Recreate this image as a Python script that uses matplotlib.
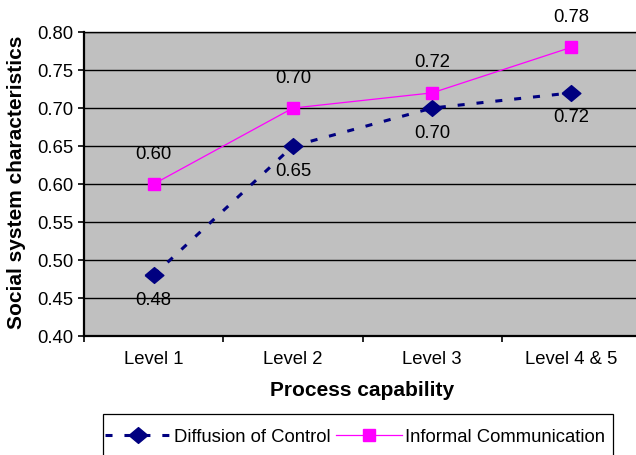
import numpy as np
import matplotlib.pyplot as plt
from matplotlib.patches import Rectangle

plt.rcParams['font.family'] = ['Liberation Sans', 'DejaVu Sans']

categories = ['Level 1', 'Level 2', 'Level 3', 'Level 4 & 5']
diffusion = [0.48, 0.65, 0.70, 0.72]
informal = [0.60, 0.70, 0.72, 0.78]
yticks = [0.40, 0.45, 0.50, 0.55, 0.60, 0.65, 0.70, 0.75, 0.80]

x = np.arange(len(categories))

# slightly flattened diamond, like the spreadsheet marker
diamond = [(-1, 0), (0, 0.84), (1, 0), (0, -0.84), (-1, 0)]

fig = plt.figure(figsize=(6.36, 4.55), dpi=100)
ax = fig.add_axes([0.1321, 0.2615, 0.8758, 0.668])
ax.set_facecolor('#C0C0C0')

ax.plot(x, diffusion, color='#000080', linestyle=(0, (2.3, 3.9)), linewidth=2.2,
        marker=diamond, markersize=13.5, label='Diffusion of Control', zorder=3)
ax.plot(x, informal, color='#FF00FF', linestyle='-', linewidth=0.9,
        marker='s', markersize=8, label='Informal Communication', zorder=3)

# value labels: informal above the points, diffusion below
for xi, v in zip(x, informal):
    ax.annotate(f'{v:.2f}', (xi, v), xytext=(0, 21.6), textcoords='offset points',
                ha='center', va='center', fontsize=13.3)
for xi, v in zip(x, diffusion):
    ax.annotate(f'{v:.2f}', (xi, v), xytext=(0, -18), textcoords='offset points',
                ha='center', va='center', fontsize=13.3)

ax.set_xlim(-0.5, len(categories) - 0.5)
ax.set_ylim(0.40, 0.80)
ax.set_yticks(yticks)
ax.set_yticklabels([f'{t:.2f}' for t in yticks], fontsize=13.3)
ax.yaxis.grid(True, color='black', linewidth=1.0)
ax.set_axisbelow(True)

# category ticks sit between the groups, labels in the middle
ax.set_xticks(np.arange(-0.5, len(categories), 1.0))
ax.set_xticklabels([])
ax.set_xticks(x, minor=True)
ax.set_xticklabels(categories, minor=True, fontsize=13.3)
ax.tick_params(axis='x', which='minor', length=0, pad=11)
ax.tick_params(axis='x', which='major', length=4.5, width=1.2, direction='out')
ax.tick_params(axis='y', length=4.5, width=1.2, direction='out', pad=3)

ax.spines['right'].set_visible(False)
ax.spines['top'].set_linewidth(1.0)
ax.spines['left'].set_linewidth(1.6)
ax.spines['bottom'].set_linewidth(1.6)

ax.set_xlabel('Process capability', fontsize=15, fontweight='bold')
ax.xaxis.set_label_coords(0.5, -0.148)
ax.set_ylabel('Social system characteristics', fontsize=15, fontweight='bold')
ax.yaxis.set_label_coords(-0.104, 0.505)

# legend box running off the bottom edge
fig.patches.append(Rectangle((103 / 636, 1 - 462 / 455), 510 / 636, 48 / 455,
                             transform=fig.transFigure, fill=False,
                             edgecolor='black', linewidth=0.9))
fig.legend(loc='center left', bbox_to_anchor=(105 / 636, 1 - 437 / 455), ncol=2,
           fontsize=13.3, frameon=False, handlelength=3.6, handletextpad=0.12,
           columnspacing=0.3, borderpad=0, borderaxespad=0)

fig.savefig('out.png', dpi=100)
